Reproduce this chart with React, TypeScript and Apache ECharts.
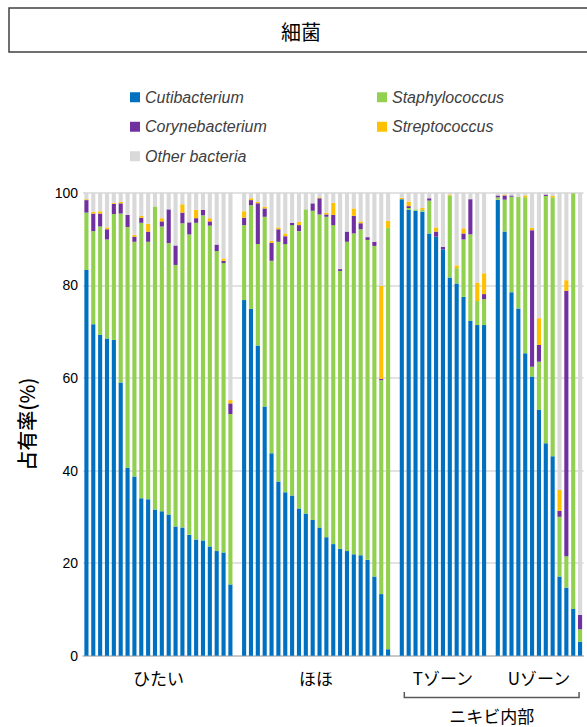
import React, { useEffect, useRef } from "react";
import * as echarts from "echarts";

// Site groups (bottom axis) and the shared parent label for the acne sites
const GROUPS = ["ひたい", "ほほ", "Tゾーン", "Uゾーン"];
const ACNE_LABEL = "ニキビ内部";

const SERIES_NAMES = [
  "Cutibacterium",
  "Staphylococcus",
  "Corynebacterium",
  "Streptococcus",
  "Other bacteria",
];

// Occupancy (%) per sample, one sub-array per site group
const cutibacterium = [
  [83.3, 71.6, 69.3, 68.5, 68.2, 59.0, 40.6, 38.7, 34.0, 33.8, 31.6, 31.2, 30.5, 27.9, 27.7, 26.1, 25.1, 24.9, 23.6, 22.6, 22.3, 15.4],
  [76.8, 74.9, 67.0, 53.8, 43.7, 37.6, 35.3, 34.6, 31.8, 30.7, 29.3, 27.7, 25.6, 24.1, 23.1, 22.6, 21.9, 21.7, 20.7, 17.1, 13.3, 1.4],
  [98.6, 96.3, 96.1, 95.9, 91.2, 90.5, 87.8, 81.7, 80.4, 77.5, 72.3, 71.4, 71.4],
  [98.5, 91.6, 78.5, 75.0, 65.3, 60.3, 53.1, 45.9, 43.1, 17.1, 14.7, 10.1, 3.0],
];

const staphylococcus = [
  [12.4, 20.1, 23.4, 21.4, 27.2, 36.5, 52.0, 50.7, 59.5, 55.6, 65.4, 61.5, 58.6, 56.5, 65.7, 64.9, 68.4, 70.2, 69.3, 64.8, 62.5, 36.8],
  [16.2, 22.4, 21.9, 41.0, 41.6, 51.8, 53.6, 58.4, 59.9, 65.7, 66.8, 67.6, 69.2, 68.9, 60.0, 66.8, 69.3, 70.4, 69.1, 71.4, 46.2, 91.0],
  [0, 0.4, 0.3, 0.4, 7.1, 0, 0, 17.7, 3.3, 12.4, 18.7, 5.2, 5.6],
  [0.5, 6.9, 20.6, 24.1, 33.7, 2.1, 10.4, 53.4, 55.9, 12.9, 6.8, 89.8, 2.7],
];

const corynebacterium = [
  [2.7, 3.8, 2.8, 2.2, 2.2, 2.2, 2.6, 1.1, 1.1, 2.2, 0, 1.1, 7.3, 4.2, 2.3, 2.6, 1.0, 1.2, 0.9, 1.4, 0.5, 2.3],
  [1.6, 1.1, 8.8, 1.8, 3.9, 2.7, 1.7, 0.5, 1.3, 0, 1.6, 3.5, 0.5, 2.2, 0.4, 2.2, 3.8, 1.3, 0.6, 0.9, 0.3, 0],
  [0, 0.4, 0, 0, 0.5, 1.1, 0.5, 0, 0, 1.3, 7.6, 0, 1.1],
  [0.4, 0.9, 0.3, 0, 0, 29.5, 3.6, 0.3, 0, 1.3, 57.3, 0, 3.1],
];

const streptococcus = [
  [0.2, 0.4, 0.5, 0.4, 0.2, 0.3, 0, 0.4, 0.4, 1.7, 0, 0.7, 0, 0, 1.8, 0, 1.8, 0, 0.7, 0, 0.5, 0.7],
  [1.4, 0.4, 0.3, 0.4, 0.4, 0.4, 0.6, 0, 0.7, 0, 0, 0.2, 0.4, 2.6, 0, 0, 1.6, 0.4, 0, 0, 20.1, 1.5],
  [0.3, 1.0, 0, 0.4, 0, 0.9, 0, 0.2, 0.6, 1.1, 0, 4.0, 4.5],
  [0, 0.2, 0, 0, 0.4, 0.5, 5.8, 0, 0.3, 4.5, 2.3, 0, 0],
];

const otherBacteria = [
  [1.4, 4.1, 4.0, 7.5, 2.2, 2.0, 4.8, 9.1, 5.0, 6.7, 3.0, 5.5, 3.6, 11.4, 2.5, 6.4, 3.7, 3.7, 5.5, 11.2, 14.2, 44.8],
  [4.0, 1.2, 2.0, 3.0, 10.4, 7.5, 8.8, 6.5, 6.3, 3.6, 2.3, 1.0, 4.3, 2.2, 16.5, 8.4, 3.4, 6.2, 9.6, 10.6, 20.1, 6.1],
  [1.1, 1.9, 3.6, 3.3, 1.2, 7.5, 11.7, 0.4, 15.7, 7.7, 1.4, 19.4, 17.4],
  [0.6, 0.4, 0.6, 0.9, 0.6, 7.6, 27.1, 0.4, 0.7, 64.2, 18.9, 0.1, 91.2],
];

const Y_TICKS = [0, 20, 40, 60, 80, 100];

const COLORS = ["#0070C0", "#92D050", "#7030A0", "#FFC000", "#D9D9D9"];

const JP_FONT = '"Noto Sans CJK JP", "Noto Sans", sans-serif';
const LEGEND_FONT = '"Liberation Sans", Arial, sans-serif';

export default function App() {
  const ref = useRef<HTMLDivElement>(null);

  useEffect(() => {
    if (!ref.current) return;
    const chart = echarts.init(ref.current, undefined, { renderer: "svg" });

    // Category slots: each sample gets a slot, with one empty slot between groups
    const categories: string[] = [];
    const groupRanges: { first: string; last: string }[] = [];
    GROUPS.forEach((g, gi) => {
      const n = cutibacterium[gi].length;
      for (let i = 0; i < n; i++) categories.push(`${g}-${i + 1}`);
      groupRanges.push({ first: `${g}-1`, last: `${g}-${n}` });
      if (gi < GROUPS.length - 1) categories.push(`gap-${gi}`);
    });

    const flatten = (arr: number[][]) => {
      const out: (number | string)[] = [];
      arr.forEach((grp, gi) => {
        grp.forEach((v) => out.push(v));
        if (gi < arr.length - 1) out.push("-");
      });
      return out;
    };

    const seriesData = [cutibacterium, staphylococcus, corynebacterium, streptococcus, otherBacteria];

    const legendText = {
      fontFamily: LEGEND_FONT,
      fontStyle: "italic",
      fontSize: 16,
      color: "#404040",
      lineHeight: 18.5,
    };

    chart.setOption({
      animation: false,
      color: COLORS,
      grid: { left: 83, right: 3.5, top: 192.7, bottom: 727 - 655.7, containLabel: false },
      legend: [
        {
          data: ["Cutibacterium", "Corynebacterium", "Other bacteria"],
          orient: "vertical",
          left: 125,
          top: 83,
          icon: "rect",
          itemWidth: 10,
          itemHeight: 10,
          itemGap: 11,
          selectedMode: false,
          textStyle: legendText,
        },
        {
          data: ["Staphylococcus", "Streptococcus"],
          orient: "vertical",
          left: 372,
          top: 83,
          icon: "rect",
          itemWidth: 10,
          itemHeight: 10,
          itemGap: 11,
          selectedMode: false,
          textStyle: legendText,
        },
      ],
      xAxis: {
        type: "category",
        data: categories,
        axisTick: { show: false },
        axisLabel: { show: false },
        axisLine: { lineStyle: { color: "#BFBFBF", width: 1.5 } },
      },
      yAxis: {
        type: "value",
        min: Y_TICKS[0],
        max: Y_TICKS[Y_TICKS.length - 1],
        interval: 20,
        name: "占有率(%)",
        nameLocation: "middle",
        nameRotate: 90,
        nameGap: 47,
        nameTextStyle: { fontFamily: JP_FONT, fontSize: 20, color: "#000", fontWeight: 500 },
        axisLine: { show: false },
        axisTick: { show: false },
        axisLabel: { fontFamily: LEGEND_FONT, fontSize: 14, color: "#000", margin: 5 },
        splitLine: { lineStyle: { color: "#D9D9D9", width: 1.5 } },
      },
      series: SERIES_NAMES.map((name, i) => ({
        name,
        type: "bar",
        stack: "share",
        barWidth: "60%",
        data: flatten(seriesData[i]),
        itemStyle: { color: COLORS[i] },
      })),
    });

    // Group labels under the axis, placed from the axis scale
    const px = (cat: string) => (chart.convertToPixel({ xAxisIndex: 0 }, cat) as number);
    const graphics: any[] = [
      {
        type: "rect",
        shape: { x: 9, y: 8, width: 620, height: 44 },
        style: { fill: "#fff", stroke: "#404040", lineWidth: 1.5 },
      },
      {
        type: "text",
        x: 301,
        y: 31,
        style: { text: "細菌", font: `20px ${JP_FONT}`, fill: "#000", textAlign: "center", textVerticalAlign: "middle" },
      },
    ];
    groupRanges.forEach((r, gi) => {
      const cx = (px(r.first) + px(r.last)) / 2;
      graphics.push({
        type: "text",
        x: cx,
        y: 677,
        style: { text: GROUPS[gi], font: `17px ${JP_FONT}`, fill: "#000", textAlign: "center", textVerticalAlign: "middle" },
      });
    });
    const bx0 = px(groupRanges[2].first) + 2.5;
    const bx1 = px(groupRanges[3].last) - 1;
    graphics.push({
      type: "polyline",
      shape: { points: [[bx0, 692], [bx0, 697.5], [bx1, 697.5], [bx1, 692]] },
      style: { stroke: "#595959", lineWidth: 1.5, fill: null },
    });
    graphics.push({
      type: "text",
      x: (bx0 + bx1) / 2,
      y: 715,
      style: { text: ACNE_LABEL, font: `17px ${JP_FONT}`, fill: "#000", textAlign: "center", textVerticalAlign: "middle" },
    });
    chart.setOption({ graphic: graphics });

    return () => chart.dispose();
  }, []);

  return (
    <div
      ref={ref}
      style={{ position: "fixed", left: 0, top: 0, width: 587, height: 727, background: "#fff" }}
    />
  );
}
